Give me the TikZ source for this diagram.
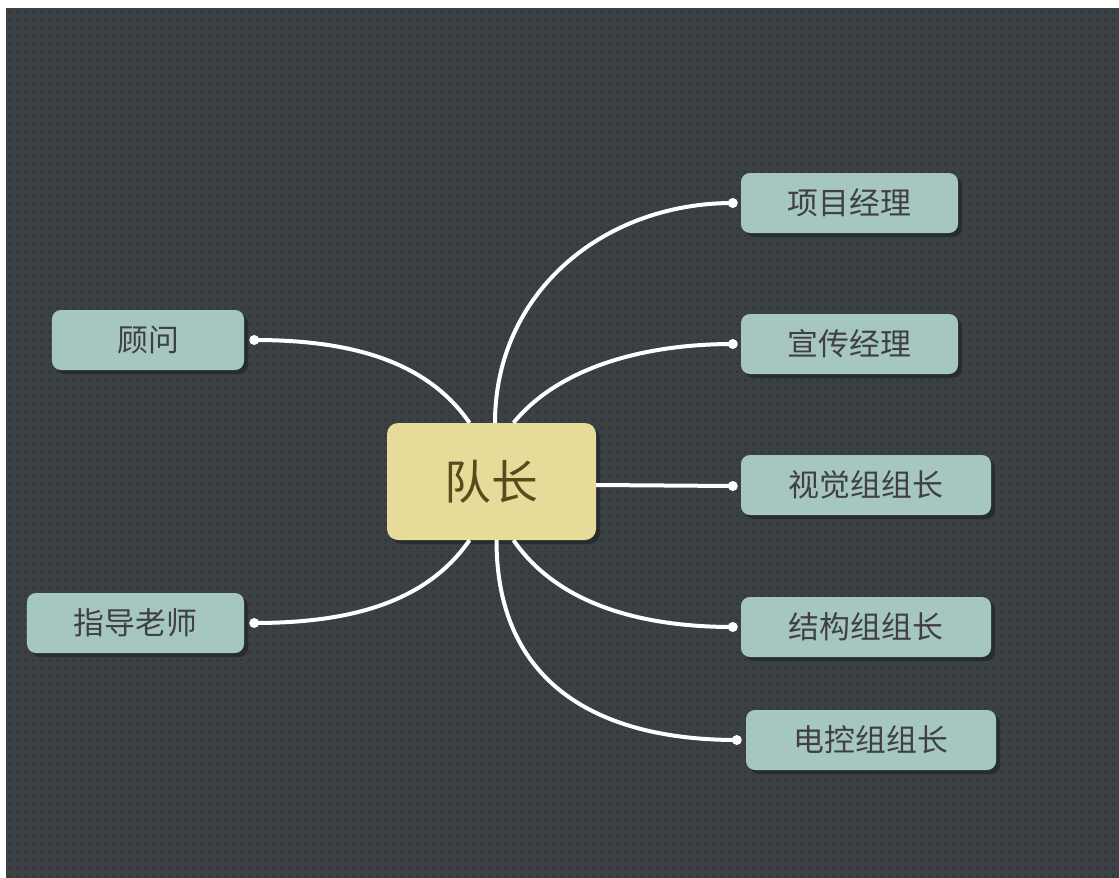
\documentclass[tikz,border=0pt]{standalone}
\usepackage{fontspec}
\setmainfont{Noto Sans CJK SC}
\usetikzlibrary{shadows}
\definecolor{bgdark}{HTML}{3A4043}
\definecolor{bgdot}{HTML}{32373A}
\definecolor{childfill}{HTML}{A6C7C1}
\definecolor{rootfill}{HTML}{E6DB98}
\definecolor{roottext}{HTML}{5A4A1E}
\definecolor{childtext}{HTML}{404040}
\definecolor{shadowc}{HTML}{262A2C}
\begin{document}
\begin{tikzpicture}[x=1bp,y=-1bp,
  child/.style={draw=none,fill=childfill,rounded corners=9bp,minimum height=60bp,
    text=childtext,font=\fontsize{31}{34}\selectfont,inner sep=0pt,
    drop shadow={shadow xshift=4bp,shadow yshift=-4bp,fill=shadowc,opacity=0.9}},
  root/.style={draw=none,fill=rootfill,rounded corners=11bp,minimum width=209bp,minimum height=117bp,
    text=roottext,font=\fontsize{47}{50}\selectfont,inner sep=0pt,
    drop shadow={shadow xshift=4bp,shadow yshift=-4bp,fill=shadowc,opacity=0.9}},
  link/.style={white,line width=4bp},
  enddot/.style={circle,fill=white,inner sep=0pt,minimum size=10bp}]
\useasboundingbox (0,0) rectangle (1119,878);
\fill[white] (0,0) rectangle (1119,878);
\fill[bgdark] (6,8) rectangle (1119,878);
\foreach \yy in {12,20,...,876}{
  \draw[bgdot,line width=2.5bp,dash pattern=on 2.5bp off 5.5bp] (8,\yy) -- (1119,\yy);
}
% nodes
\node[root] (r) at (491.5,481.5) {队长};
\node[child,minimum width=217bp] (a) at (849.5,203) {项目经理};
\node[child,minimum width=217bp] (b) at (849.5,344) {宣传经理};
\node[child,minimum width=250bp] (c) at (866,485) {视觉组组长};
\node[child,minimum width=250bp] (d) at (866,627) {结构组组长};
\node[child,minimum width=250bp] (e) at (871,740) {电控组组长};
\node[child,minimum width=192bp] (f) at (148,340) {顾问};
\node[child,minimum width=217bp] (g) at (135.5,623) {指导老师};
% endpoint coordinates
\coordinate (ra) at ([xshift=3.5bp]r.north);
\coordinate (rb) at ([xshift=22bp]r.north);
\coordinate (rc) at ([yshift=-3.5bp]r.east);
\coordinate (rd) at ([xshift=22bp]r.south);
\coordinate (re) at ([xshift=5bp]r.south);
\coordinate (rf) at ([xshift=-22bp]r.north);
\coordinate (rg) at ([xshift=-22bp]r.south);
\node[enddot] (da) at ([xshift=-8bp]a.west) {};
\node[enddot] (db) at ([xshift=-8bp]b.west) {};
\node[enddot] (dc) at ([xshift=-8bp,yshift=-1bp]c.west) {};
\node[enddot] (dd) at ([xshift=-8bp]d.west) {};
\node[enddot] (de) at ([xshift=-9bp]e.west) {};
\node[enddot] (df) at ([xshift=10bp]f.east) {};
\node[enddot] (dg) at ([xshift=10bp]g.east) {};
% connectors
\draw[link] (ra) .. controls ([yshift=130bp]ra) and ([xshift=-130bp]da.center) .. (da.center);
\draw[link] (rb) .. controls ([xshift=45bp,yshift=55bp]rb) and ([xshift=-90bp]db.center) .. (db.center);
\draw[link] (rc) -- (dc.center);
\draw[link] (rd) .. controls ([xshift=45bp,yshift=-65bp]rd) and ([xshift=-90bp]dd.center) .. (dd.center);
\draw[link] (re) .. controls ([yshift=-150bp]re) and ([xshift=-130bp]de.center) .. (de.center);
\draw[link] (rf) .. controls ([xshift=-45bp,yshift=65bp]rf) and ([xshift=90bp]df.center) .. (df.center);
\draw[link] (rg) .. controls ([xshift=-45bp,yshift=-65bp]rg) and ([xshift=90bp]dg.center) .. (dg.center);
\end{tikzpicture}
\end{document}
